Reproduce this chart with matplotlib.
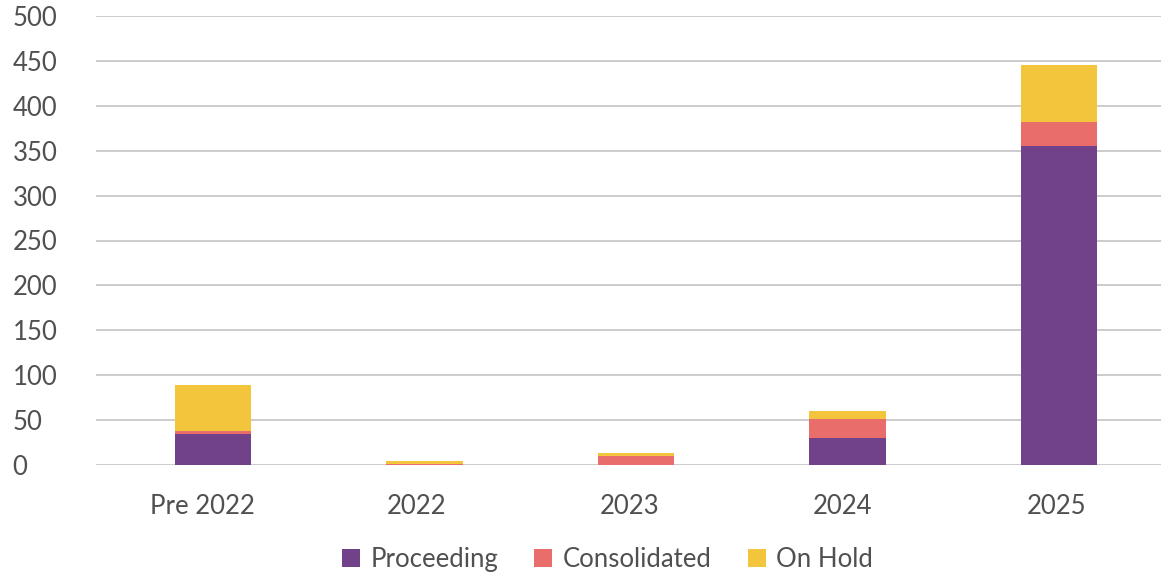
import matplotlib
matplotlib.use('Agg')
from matplotlib import pyplot as plt
from matplotlib.transforms import ScaledTranslation
import numpy as np

categories = ['Pre 2022', '2022', '2023', '2024', '2025']
proceeding = [35, 0, 0, 30, 355]
consolidated = [3, 1, 10, 21, 27]
on_hold = [51, 4, 3, 9, 63]

colors = ['#714189', '#E96E6B', '#F2C53D']
plt.rcParams['font.family'] = ['Lato', 'DejaVu Sans']

fig = plt.figure(figsize=(11.61, 5.74), dpi=100)
ax = fig.add_axes([96/1161, 1 - 465/574, 1065/1161, 449/574])

x = np.arange(len(categories))
w = 0.36
bottom2 = np.array(proceeding) + np.array(consolidated)
ax.bar(x, proceeding, w, color=colors[0], label='Proceeding', zorder=3)
ax.bar(x, consolidated, w, bottom=proceeding, color=colors[1], label='Consolidated', zorder=3)
ax.bar(x, on_hold, w, bottom=bottom2, color=colors[2], label='On Hold', zorder=3)

ax.set_ylim(0, 500)
ax.set_yticks(range(0, 501, 50))
ax.set_xlim(-0.553, 4.482)
ax.set_xticks(x)
ax.set_xticklabels(categories)
ax.grid(axis='y', color='#c4c4c4', linewidth=1.2, zorder=0)
for s in ax.spines.values():
    s.set_visible(False)
ax.tick_params(length=0, labelsize=18.5, labelcolor='#505050')
ax.tick_params(axis='y', pad=60)
ax.tick_params(axis='x', pad=21)
for lbl in ax.get_yticklabels():
    lbl.set_horizontalalignment('left')
# the labels sit a little left of the bar centres in the original
shifts = [-11, -8, -6, -5, -2]
for lbl, dx in zip(ax.get_xticklabels(), shifts):
    lbl.set_transform(lbl.get_transform() + ScaledTranslation(dx / 100, 0, fig.dpi_scale_trans))

leg = ax.legend(loc='center', bbox_to_anchor=(0.5 - 21/1065, -0.21), ncol=3, frameon=False,
                handlelength=0.7, handleheight=0.7, handletextpad=0.4, columnspacing=1.4,
                prop={'size': 18.5})
for t in leg.get_texts():
    t.set_color('#505050')

fig.savefig('out.png', dpi=100)
